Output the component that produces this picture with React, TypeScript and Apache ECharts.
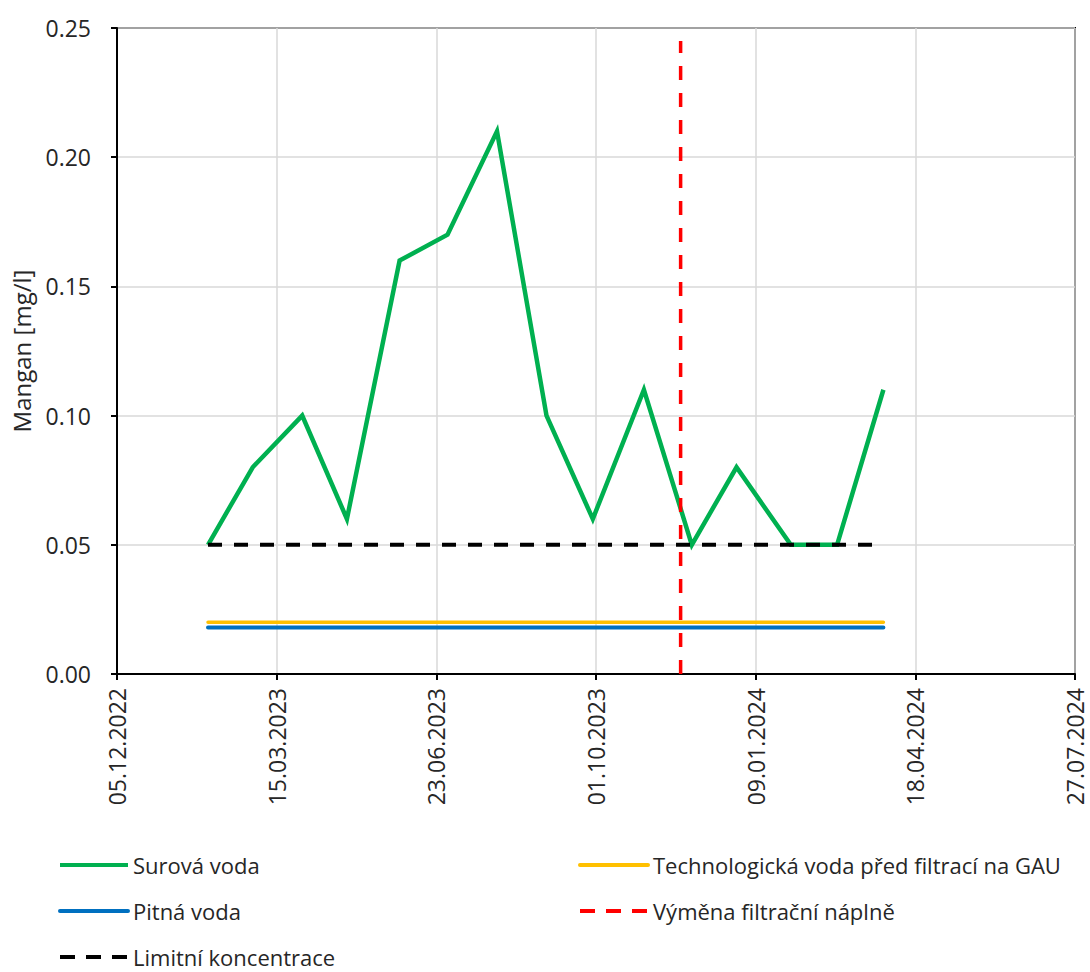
import React, { useEffect, useRef } from "react";
import * as echarts from "echarts";

// ---- Data ----
const axisStart = "05.12.2022";
const axisEndDays = 600; // 27.07.2024
const axisStepDays = 100;

const sampleDates = [
  "31.01.2023", "28.02.2023", "31.03.2023", "28.04.2023", "31.05.2023",
  "30.06.2023", "31.07.2023", "31.08.2023", "29.09.2023", "31.10.2023",
  "30.11.2023", "28.12.2023", "31.01.2024", "29.02.2024", "29.03.2024",
];
const surovaVoda = [0.05, 0.08, 0.10, 0.06, 0.16, 0.17, 0.21, 0.10, 0.06, 0.11, 0.05, 0.08, 0.05, 0.05, 0.11];
const technologickaVoda = [0.02, 0.02, 0.02, 0.02, 0.02, 0.02, 0.02, 0.02, 0.02, 0.02, 0.02, 0.02, 0.02, 0.02, 0.02];
const pitnaVoda = [0.018, 0.018, 0.018, 0.018, 0.018, 0.018, 0.018, 0.018, 0.018, 0.018, 0.018, 0.018, 0.018, 0.018, 0.018];
const limitniKoncentrace = [0.05, 0.05, 0.05, 0.05, 0.05, 0.05, 0.05, 0.05, 0.05, 0.05, 0.05, 0.05, 0.05, 0.05, 0.05];
const filterChangeDates = ["23.11.2023", "23.11.2023"];
const filterChangeValues = [0, 0.245];

const yTicks = { min: 0, max: 0.25, interval: 0.05 };

const NAMES = {
  surova: "Surová voda",
  tech: "Technologická voda před filtrací na GAU",
  pitna: "Pitná voda",
  vymena: "Výměna filtrační náplně",
  limit: "Limitní koncentrace",
};

const DAY = 86400000;
function parseDate(s: string): number {
  const [d, m, y] = s.split(".").map(Number);
  return Date.UTC(y, m - 1, d);
}
const startMs = parseDate(axisStart);
const toDays = (s: string) => Math.round((parseDate(s) - startMs) / DAY);
function fmtDays(v: number): string {
  const dt = new Date(startMs + v * DAY);
  const dd = String(dt.getUTCDate()).padStart(2, "0");
  const mm = String(dt.getUTCMonth() + 1).padStart(2, "0");
  return `${dd}.${mm}.${dt.getUTCFullYear()}`;
}
const pairs = (dates: string[], vals: number[]) => dates.map((d, i) => [toDays(d), vals[i]]);

const FONT = "'Open Sans', 'Noto Sans', sans-serif";
const TEXT = "#262626";

export default function App() {
  const ref = useRef<HTMLDivElement>(null);
  useEffect(() => {
    if (!ref.current) return;
    const chart = echarts.init(ref.current, null, { renderer: "svg" });
    const lineBase = { type: "line", symbol: "none", showSymbol: false, silent: true };
    const legendCommon = {
      orient: "vertical", padding: 0,
      itemWidth: 68, itemHeight: 26, itemGap: 20,
      itemStyle: { opacity: 0, borderWidth: 0 },
      lineStyle: { width: 4 },
      textStyle: { fontSize: 22, color: TEXT, fontFamily: FONT, lineHeight: 26 },
    };
    const dashedLegendStyle = { width: 4, type: [15, 11] };
    chart.setOption({
      animation: false,
      backgroundColor: "#ffffff",
      textStyle: { fontFamily: FONT, color: TEXT },
      grid: {
        left: 117, right: 15, top: 28, bottom: 298,
        show: true, borderColor: "#000", borderWidth: 2,
      },
      xAxis: {
        type: "value",
        min: 0,
        max: axisEndDays,
        interval: axisStepDays,
        axisLine: { onZero: false, lineStyle: { color: "#000", width: 2 } },
        axisTick: { show: true, length: 6, lineStyle: { color: "#000", width: 2 } },
        axisLabel: {
          rotate: 90, fontSize: 23, color: TEXT, fontFamily: FONT, margin: 14,
          formatter: (v: number) => fmtDays(v),
        },
        splitLine: { show: true, lineStyle: { color: "#d9d9d9", width: 1.5 } },
      },
      yAxis: {
        type: "value",
        min: yTicks.min,
        max: yTicks.max,
        interval: yTicks.interval,
        name: "Mangan [mg/l]",
        nameLocation: "middle",
        nameGap: 84,
        nameTextStyle: { fontSize: 24, color: TEXT, fontFamily: FONT },
        axisLine: { show: true, lineStyle: { color: "#000", width: 2 } },
        axisTick: { show: true, length: 6, lineStyle: { color: "#000", width: 2 } },
        axisLabel: {
          fontSize: 23, color: TEXT, fontFamily: FONT, margin: 26,
          formatter: (v: number) => v.toFixed(2),
        },
        splitLine: { show: true, lineStyle: { color: "#d9d9d9", width: 1.5 } },
      },
      legend: [
        { ...legendCommon, left: 58, top: 852, data: [NAMES.surova, NAMES.pitna] },
        { ...legendCommon, left: 58, top: 944, data: [NAMES.limit], lineStyle: dashedLegendStyle },
        { ...legendCommon, left: 578, top: 852, data: [NAMES.tech] },
        { ...legendCommon, left: 578, top: 898, data: [NAMES.vymena], lineStyle: dashedLegendStyle },
      ],
      series: [
        {
          ...lineBase, name: NAMES.surova,
          data: pairs(sampleDates, surovaVoda),
          lineStyle: { color: "#00B050", width: 4.5, join: "miter" },
          itemStyle: { color: "#00B050" },
          z: 2,
        },
        {
          ...lineBase, name: NAMES.tech,
          data: pairs(sampleDates, technologickaVoda),
          lineStyle: { color: "#FFC000", width: 3.5, cap: "round" },
          itemStyle: { color: "#FFC000" },
          z: 3,
        },
        {
          ...lineBase, name: NAMES.pitna,
          data: pairs(sampleDates, pitnaVoda),
          lineStyle: { color: "#0070C0", width: 4, cap: "round" },
          itemStyle: { color: "#0070C0" },
          z: 3,
        },
        {
          ...lineBase, name: NAMES.limit,
          data: pairs(sampleDates, limitniKoncentrace),
          lineStyle: { color: "#000000", width: 4, type: [14, 12] },
          itemStyle: { color: "#000000" },
          z: 4,
        },
        {
          ...lineBase, name: NAMES.vymena,
          data: pairs(filterChangeDates, filterChangeValues),
          lineStyle: { color: "#FF0000", width: 3.5, type: [14, 13] },
          itemStyle: { color: "#FF0000" },
          z: 5,
        },
      ],
    });
    return () => chart.dispose();
  }, []);
  return (
    <div style={{ position: "absolute", left: 0, top: 0, width: 1090, height: 972, background: "#fff" }}>
      <div ref={ref} style={{ width: 1090, height: 972 }} />
    </div>
  );
}
